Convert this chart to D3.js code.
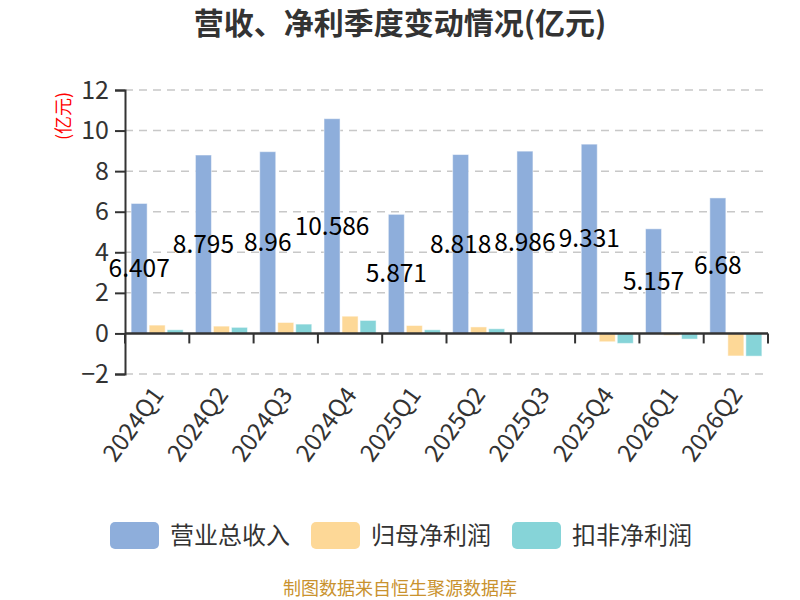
<!DOCTYPE html>
<html><head><meta charset="utf-8">
<script src="https://cdn.jsdelivr.net/npm/d3@7/dist/d3.min.js"></script>
<style>
body{margin:0;background:#fff;}
text{font-family:"Noto Sans CJK SC","Noto Sans",sans-serif;}
</style></head>
<body><svg id="c" width="800" height="600"></svg>
<script>
const categories = ["2024Q1","2024Q2","2024Q3","2024Q4","2025Q1","2025Q2","2025Q3","2025Q4","2026Q1","2026Q2"];
const seriesNames = ["营业总收入","归母净利润","扣非净利润"];
const revenue = [6.407, 8.795, 8.96, 10.586, 5.871, 8.818, 8.986, 9.331, 5.157, 6.68];
const netProfit = [0.41, 0.36, 0.54, 0.85, 0.39, 0.32, 0.01, -0.41, -0.09, -1.11];
const deductedProfit = [0.18, 0.30, 0.46, 0.64, 0.18, 0.23, -0.03, -0.49, -0.28, -1.12];
const yTicks = [-2, 0, 2, 4, 6, 8, 10, 12];
const colors = ["#8eaedb", "#fdd897", "#86d4d8"];

const svg = d3.select("#c");
const values = [revenue, netProfit, deductedProfit];

const x = d3.scaleBand().domain(categories).range([125, 768]).paddingInner(0).paddingOuter(0);
const xs = d3.scaleBand().domain(seriesNames).range([0, x.bandwidth()]).paddingInner(0.111).paddingOuter(0.34);
const y = d3.scaleLinear().domain([-2, 12]).range([374, 90]);

// title
svg.append("text").attr("x", 400).attr("y", 34).attr("text-anchor", "middle")
  .attr("font-size", 30).attr("font-weight", "bold").attr("fill", "#333")
  .text("营收、净利季度变动情况(亿元)");

// gridlines
svg.append("g").selectAll("line").data(yTicks.filter(t => t !== 0)).join("line")
  .attr("x1", 125).attr("x2", 768).attr("y1", d => y(d)).attr("y2", d => y(d))
  .attr("stroke", "#c8c8c8").attr("stroke-width", 1.5).attr("stroke-dasharray", "8,6");

// y axis
const yAxis = d3.axisLeft(y).tickValues(yTicks).tickSize(10).tickPadding(6).tickFormat(d3.format("d"));
const gy = svg.append("g").attr("transform", "translate(125,0)").call(yAxis);
gy.select(".domain").attr("stroke", "#333").attr("stroke-width", 2);
gy.selectAll(".tick line").attr("stroke", "#333").attr("stroke-width", 2);
gy.selectAll(".tick text").attr("font-size", 25).attr("fill", "#333")
  .attr("font-family", "'Noto Sans CJK SC',sans-serif");

// unit
svg.append("text").attr("transform", "translate(70,116) rotate(-90)").attr("text-anchor", "middle")
  .attr("font-size", 18).attr("fill", "red").text("(亿元)");

// bars
const groups = svg.append("g").selectAll("g").data(categories).join("g")
  .attr("transform", d => `translate(${x(d)},0)`);
groups.selectAll("rect").data((c, i) => seriesNames.map((s, j) => ({s, j, v: values[j][i]}))).join("rect")
  .attr("x", d => xs(d.s)).attr("width", xs.bandwidth())
  .attr("y", d => y(Math.max(0, d.v))).attr("height", d => Math.abs(y(d.v) - y(0)))
  .attr("fill", d => colors[d.j]).attr("stroke", "rgba(255,255,255,0.5)").attr("stroke-width", 1);

// x axis at zero
const xAxis = d3.axisBottom(x).tickSize(10).tickFormat("");
const gx = svg.append("g").attr("transform", `translate(0,${y(0)})`).call(xAxis);
gx.select(".domain").attr("stroke", "#333").attr("stroke-width", 2.5).attr("d", `M125,0H768`);
gx.selectAll(".tick").remove();
gx.selectAll(".bt").data(categories.concat(["_end"])).join("line").attr("class", "bt")
  .attr("x1", (d, i) => i < categories.length ? x(d) : 768).attr("x2", (d, i) => i < categories.length ? x(d) : 768)
  .attr("y1", 0).attr("y2", 10).attr("stroke", "#333").attr("stroke-width", 2);

// x labels
svg.append("g").selectAll("text").data(categories).join("text")
  .attr("transform", d => `translate(${x(d) + x.bandwidth() / 2 + 1},390) rotate(-54)`)
  .attr("text-anchor", "end").attr("dy", "0.35em")
  .attr("font-size", 24).attr("fill", "#333").text(d => d);

// value labels (revenue)
svg.append("g").selectAll("text").data(categories).join("text")
  .attr("x", (d) => x(d) + xs(seriesNames[0]) + xs.bandwidth() / 2)
  .attr("y", (d, i) => y(revenue[i] / 2)).attr("dy", "0.35em")
  .attr("text-anchor", "middle").attr("font-size", 24.5).attr("fill", "#000")
  .text((d, i) => revenue[i]);

// legend
const legendX = [110, 311, 512];
const lg = svg.append("g").selectAll("g").data(seriesNames).join("g")
  .attr("transform", (d, i) => `translate(${legendX[i]},522)`);
lg.append("rect").attr("width", 49).attr("height", 27).attr("rx", 5).attr("fill", (d, i) => colors[i]);
lg.append("text").attr("x", 60).attr("y", 14).attr("dy", "0.35em").attr("font-size", 24).attr("fill", "#333").text(d => d);

// source
svg.append("text").attr("x", 400).attr("y", 595).attr("text-anchor", "middle")
  .attr("font-size", 18).attr("fill", "#c9922e").text("制图数据来自恒生聚源数据库");
</script></body></html>
